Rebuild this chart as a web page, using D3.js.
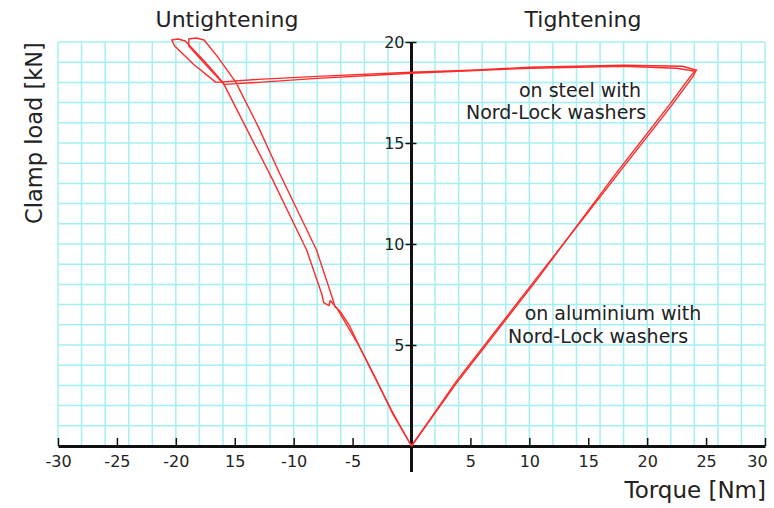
<!DOCTYPE html>
<html><head><meta charset="utf-8">
<script src="https://cdn.jsdelivr.net/npm/d3@7"></script>
<style>
html,body{margin:0;padding:0;background:#fff;}
text{font-family:"DejaVu Sans",Verdana,sans-serif;fill:#222;}
</style></head>
<body><svg id="c" width="774" height="508"></svg>
<script>
// ---- data ----
const xTickValues = [-30,-25,-20,-15,-10,-5,0,5,10,15,20,25,30];
const xTickLabels = ["-30","-25","-20","15","-10","-5","","5","10","15","20","25","30"];
const yTickValues = [5,10,15,20];
const yTickLabels = ["5","10","15","20"];
// Run 1 (torque Nm, clamp load kN)
const run1Torque = [0,3.8,10.6,17.1,21.9,23.8,24.2,23.0,18,10,5,0,-8,-13,-16.6,-18.5,-20.1,-20.35,-19.8,-19.2,-17.5,-16.0,-13.9,-11.8,-8.9,-7.6,-7.45,-7.0,-6.9,-6.3,-5.5,-4.4,-3.0,-1.6,0];
const run1Load   = [0,3.1,8.2,13.3,16.9,18.4,18.6,18.8,18.85,18.75,18.6,18.5,18.3,18.15,18.0,18.9,19.8,20.1,20.15,20.05,19.0,18.0,15.6,13.2,9.7,7.5,7.1,6.95,7.2,6.8,6.0,4.9,3.3,1.6,0];
// Run 2
const run2Torque = [0,3.8,10.6,17.3,22.0,23.9,24.1,22.5,18,10,0,-8,-13,-15.9,-17.5,-18.9,-18.9,-18.3,-17.6,-16.5,-14.9,-13.0,-11.2,-8.06,-6.7,-6.5,-6.1,-5.3,-4.4,-3.0,-1.56,0];
const run2Load   = [0,3.2,8.3,13.3,16.8,18.3,18.55,18.7,18.8,18.7,18.45,18.2,18.0,17.9,18.9,19.8,20.15,20.2,20.1,19.3,18.0,15.8,13.5,9.7,7.3,6.9,6.7,6.0,4.9,3.27,1.62,0];
const runs = [
  run1Torque.map((t,i)=>[t,run1Load[i]]),
  run2Torque.map((t,i)=>[t,run2Load[i]])
];
const gridX = d3.range(-30,31,2);
const gridY = d3.range(0,21,1);

// ---- chart ----
const svg = d3.select("#c");
const x = d3.scaleLinear().domain([-30,30]).range([58,765]);
const y = d3.scaleLinear().domain([0,20]).range([446,42]);
const gridColor = "#a3f0f2";

svg.append("g").selectAll("line").data(gridX).join("line")
  .attr("x1",d=>x(d)).attr("x2",d=>x(d)).attr("y1",y(0)).attr("y2",y(20))
  .attr("stroke",gridColor).attr("stroke-width",1.5);
svg.append("g").selectAll("line").data(gridY).join("line")
  .attr("x1",x(-30)).attr("x2",x(30)).attr("y1",d=>y(d)).attr("y2",d=>y(d))
  .attr("stroke",gridColor).attr("stroke-width",1.5);

// x axis
const xAxis = d3.axisBottom(x).tickValues(xTickValues)
  .tickFormat((d,i)=>xTickLabels[i]).tickSizeInner(-8).tickSizeOuter(0).tickPadding(10);
const gx = svg.append("g").attr("transform",`translate(0,${y(0)})`).call(xAxis);
gx.select(".domain").attr("stroke","#111").attr("stroke-width",3);
gx.selectAll(".tick line").attr("stroke","#111").attr("stroke-width",1.5);
gx.selectAll(".tick text").attr("font-size",16).attr("font-family","DejaVu Sans").attr("fill","#222");
gx.selectAll(".tick text").filter(d=>d===30).attr("dx",-8);

// y axis
svg.append("line").attr("x1",x(0)).attr("x2",x(0)).attr("y1",y(20)).attr("y2",y(0)+26)
  .attr("stroke","#111").attr("stroke-width",3);
const yAxis = d3.axisLeft(y).tickValues(yTickValues)
  .tickFormat((d,i)=>yTickLabels[i]).tickSizeInner(6).tickSizeOuter(0).tickPadding(1);
const gy = svg.append("g").attr("transform",`translate(${x(0)},0)`).call(yAxis);
gy.select(".domain").remove();
gy.selectAll(".tick line").attr("x2",-6).attr("x1",5).attr("stroke","#111").attr("stroke-width",1.5);
gy.selectAll(".tick text").attr("font-size",16).attr("font-family","DejaVu Sans").attr("fill","#222");

// curves
const line = d3.line().x(d=>x(d[0])).y(d=>y(d[1]));
svg.append("g").selectAll("path").data(runs).join("path")
  .attr("d",line).attr("fill","none").attr("stroke","#ff2a2a")
  .attr("stroke-width",1.4).attr("stroke-linejoin","round");

// texts
svg.append("text").attr("x",227).attr("y",27).attr("text-anchor","middle").attr("font-size",22).text("Untightening");
svg.append("text").attr("x",583).attr("y",27).attr("text-anchor","middle").attr("font-size",22).text("Tightening");
svg.append("text").attr("x",766).attr("y",498).attr("text-anchor","end").attr("font-size",23).text("Torque [Nm]");
svg.append("text").attr("transform","translate(42,133) rotate(-90)").attr("text-anchor","middle").attr("font-size",22.5).text("Clamp load [kN]");
svg.append("text").attr("x",580).attr("y",97).attr("text-anchor","middle").attr("font-size",19).text("on steel with");
svg.append("text").attr("x",556).attr("y",119).attr("text-anchor","middle").attr("font-size",19).text("Nord-Lock washers");
svg.append("text").attr("x",613).attr("y",320).attr("text-anchor","middle").attr("font-size",19).text("on aluminium with");
svg.append("text").attr("x",598).attr("y",343).attr("text-anchor","middle").attr("font-size",19).text("Nord-Lock washers");
</script></body></html>
